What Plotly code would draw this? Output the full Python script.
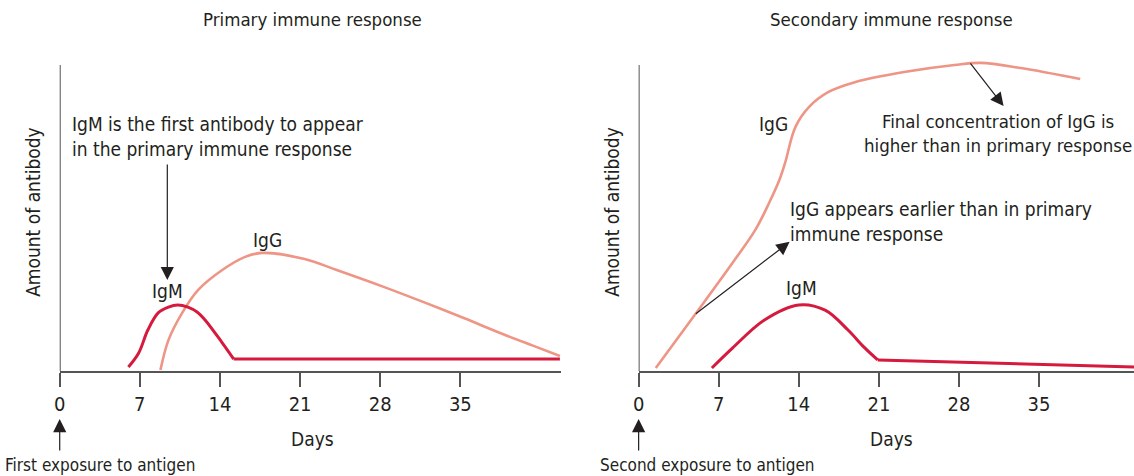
import plotly.graph_objects as go

W, H = 1134, 476
FONT = "DejaVu Sans Condensed, Liberation Sans Narrow, Arial Narrow, sans-serif"
INK = "#231f20"
AXIS = "#555555"
IGM_COLOR = "#d51a3e"
IGG_COLOR = "#ee9586"

# Tick labels on the Days axes
day_ticks = [0, 7, 14, 21, 28, 35]

# Primary response (days, relative amount)
pri_igm_days = [6.0, 6.9, 7.7, 8.6, 9.5, 10.3, 11.2, 12.0, 12.7, 14.2, 15.2, 43.7]
pri_igm_amt = [1.3, 5.9, 13.4, 19.0, 20.9, 21.6, 20.9, 19.3, 16.7, 9.2, 3.9, 3.9]
pri_igg_days = [8.8, 9.5, 10.7, 12.1, 14.2, 16.2, 17.7, 21.4, 24.2, 28.3, 31.8, 35.3, 38.7, 41.4, 43.7]
pri_igg_amt = [0.3, 10.1, 19.0, 26.5, 33.0, 37.3, 38.6, 36.6, 33.0, 27.5, 22.5, 17.3, 12.1, 8.2, 4.9]

# Secondary response
sec_igm_days = [6.4, 8.2, 11.0, 14.0, 16.3, 18.3, 19.7, 20.9, 43.3]
sec_igm_amt = [1.0, 7.5, 16.7, 21.6, 19.9, 13.4, 7.8, 3.6, 1.3]
sec_igg_days = [1.5, 4.9, 8.2, 10.2, 11.4, 12.3, 12.8, 13.7, 14.9, 16.6, 18.9, 23.2, 27.6, 29.9, 33.4, 38.6]
sec_igg_amt = [1.0, 18.3, 35.3, 46.1, 54.9, 62.4, 68.0, 79.7, 86.3, 91.2, 94.4, 97.7, 100.0, 100.7, 99.0, 95.4]

PRI_XMAX, SEC_XMAX = 43.8, 43.3
Y_MAX = 102


def px(x):
    return x / W


def py(y):
    return 1 - y / H


fig = go.Figure()


def add_igm(days, amt, xa, ya):
    # smooth hump up to the point where the decline flattens out, then a straight plateau
    k = len(days) - 1
    fig.add_trace(go.Scatter(x=days[:k], y=amt[:k], mode="lines", xaxis=xa, yaxis=ya,
                             line=dict(color=IGM_COLOR, width=3, shape="spline", smoothing=1.0),
                             hoverinfo="skip", showlegend=False))
    fig.add_trace(go.Scatter(x=days[k - 1:], y=amt[k - 1:], mode="lines", xaxis=xa, yaxis=ya,
                             line=dict(color=IGM_COLOR, width=3),
                             hoverinfo="skip", showlegend=False))


def add_igg(days, amt, xa, ya):
    fig.add_trace(go.Scatter(x=days, y=amt, mode="lines", xaxis=xa, yaxis=ya,
                             line=dict(color=IGG_COLOR, width=2.6, shape="spline", smoothing=1.0),
                             hoverinfo="skip", showlegend=False))


add_igg(pri_igg_days, pri_igg_amt, "x", "y")
add_igm(pri_igm_days, pri_igm_amt, "x", "y")
add_igg(sec_igg_days, sec_igg_amt, "x2", "y2")
add_igm(sec_igm_days, sec_igm_amt, "x2", "y2")

ydom = [py(371), py(371 - Y_MAX * 3.06)]
xaxis_common = dict(tickvals=day_ticks, ticks="outside", ticklen=14, tickwidth=1.5,
                    tickcolor=AXIS, showline=True, linecolor=AXIS, linewidth=2,
                    showgrid=False, zeroline=False,
                    tickfont=dict(family=FONT, size=20, color=INK))
yaxis_common = dict(range=[0, Y_MAX], showticklabels=False, ticks="", showline=False,
                    showgrid=False, zeroline=False, domain=ydom)

fig.update_layout(
    width=W, height=H,
    margin=dict(l=0, r=0, t=0, b=0),
    paper_bgcolor="white", plot_bgcolor="white",
    font=dict(family=FONT, color=INK),
    xaxis=dict(xaxis_common, domain=[px(54), px(558)], range=[0, PRI_XMAX], anchor="y"),
    yaxis=dict(yaxis_common, anchor="x"),
    xaxis2=dict(xaxis_common, domain=[px(636), 1.0], range=[0, SEC_XMAX], anchor="y2"),
    yaxis2=dict(yaxis_common, anchor="x2"),
)

# vertical amount axes, drawn up to the top of the scale
for xr, yr in (("x", "y"), ("x2", "y2")):
    fig.add_shape(type="line", xref=xr, yref=yr, x0=0, x1=0, y0=0, y1=100,
                  line=dict(color=AXIS, width=2))

ann = []


def text(x, y, s, size=19, xanchor="center", yanchor="middle", angle=0, align="center"):
    ann.append(dict(x=px(x), y=py(y), xref="paper", yref="paper", text=s, showarrow=False,
                    xanchor=xanchor, yanchor=yanchor, textangle=angle, align=align,
                    borderpad=0, font=dict(family=FONT, size=size, color=INK)))


def arrow(xr, yr, x, y, ax, ay):
    ann.append(dict(x=x, y=y, ax=ax, ay=ay, xref=xr, yref=yr, axref=xr, ayref=yr,
                    text="", showarrow=True, arrowhead=2, arrowsize=2.2, arrowwidth=1.2,
                    arrowcolor=INK, standoff=0))


# titles and axis labels
text(308, 20, "Primary immune response", size=18.5)
text(890, 20, "Secondary immune response", size=18.5)
text(27, 212, "Amount of antibody", size=19, angle=-90)
text(609, 212, "Amount of antibody", size=19, angle=-90)
text(308, 439, "Days", size=19)
text(890, 439, "Days", size=19)

# exposure markers under day 0
text(-2, 465, "First exposure to antigen", size=17, xanchor="left")
text(596, 465, "Second exposure to antigen", size=17, xanchor="left")
for x0 in (54, 636):
    ann.append(dict(x=px(x0), y=py(419), xref="paper", yref="paper", ax=0, ay=33,
                    text="", showarrow=True, arrowhead=2, arrowsize=2.2, arrowwidth=1.2,
                    arrowcolor=INK, standoff=0))

# primary panel notes
text(65, 136, "IgM is the first antibody to appear<br>in the primary immune response",
     xanchor="left", align="left")
text(162, 291, "IgM")
text(263, 240, "IgG")
arrow("x", "y", 9.4, 29.7, 9.4, 68.0)

# secondary panel notes
text(772, 124, "IgG")
text(800, 288, "IgM")
text(787, 221, "IgG appears earlier than in primary<br>immune response", xanchor="left",
     align="left")
text(997, 133, "Final concentration of IgG is<br>higher than in primary response", size=18.5)
arrow("x2", "y2", 13.2, 42.2, 4.87, 18.3)
arrow("x2", "y2", 31.9, 86.6, 28.9, 101.0)

fig.update_layout(annotations=ann)
fig.write_html("out.html")
